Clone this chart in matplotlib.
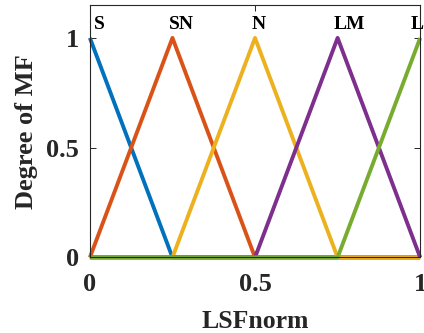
import numpy as np
import matplotlib
matplotlib.use("Agg")
import matplotlib.pyplot as plt

# triangular membership functions on LSFnorm
x = [0, 0.25, 0.5, 0.75, 1]
mf_names = ["S", "SN", "N", "LM", "L"]
mf_S = [1, 0, 0, 0, 0]
mf_SN = [0, 1, 0, 0, 0]
mf_N = [0, 0, 1, 0, 0]
mf_LM = [0, 0, 0, 1, 0]
mf_L = [0, 0, 0, 0, 1]
label_x = [0.03, 0.276, 0.51, 0.785, 0.99]
colors = ["#0072BD", "#D95319", "#EDB120", "#7E2F8E", "#77AC30"]

plt.rcParams['font.family'] = ['Liberation Serif', 'DejaVu Serif']
plt.rcParams['font.weight'] = 'bold'

fig = plt.figure(figsize=(4.24, 3.33), dpi=100)
ax = fig.add_axes([0.212, 0.227, 0.779, 0.758])

for ys, c in zip([mf_S, mf_SN, mf_N, mf_LM, mf_L], colors):
    ax.plot(x, ys, color=c, lw=2.8, solid_capstyle='butt', clip_on=False)

for name, lx in zip(mf_names, label_x):
    ax.text(lx, 1.06, name, ha='center', va='center', fontsize=14,
            fontweight='bold', color='black', clip_on=False)

ax.set_xlim(0, 1)
ax.set_ylim(0, 1.15)
ax.set_xticks([0, 0.5, 1])
ax.set_xticklabels(["0", "0.5", "1"])
ax.set_yticks([0, 0.5, 1])
ax.set_yticklabels(["0", "0.5", "1"])
ax.tick_params(direction='in', length=4, width=0.7, top=True, right=True,
               labelsize=19, colors='#262626')
ax.tick_params(axis='x', pad=11)
ax.tick_params(axis='y', pad=8)
for s in ax.spines.values():
    s.set_color('#262626')
    s.set_linewidth(0.8)

ax.set_xlabel("LSFnorm", fontsize=18.5, fontweight='bold', color='#262626', labelpad=10)
ax.set_ylabel("Degree of MF", fontsize=19, fontweight='bold', color='#262626', labelpad=6)

fig.savefig("out.png", dpi=100)
